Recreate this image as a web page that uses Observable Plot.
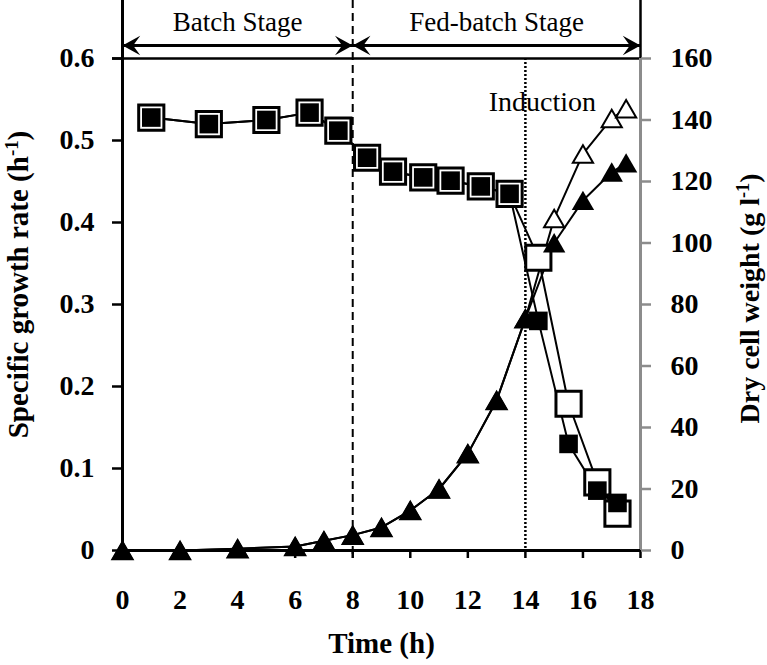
<!DOCTYPE html>
<html><head><meta charset="utf-8">
<script src="https://cdn.jsdelivr.net/npm/d3@7"></script>
<script src="https://cdn.jsdelivr.net/npm/@observablehq/plot@0.6"></script>
<style>body{margin:0;background:#fff;} svg{display:block}</style>
</head><body><div id="chart"></div>
<script>
// Specific growth rate (h^-1) — left axis
const timeMu   = [1, 3, 5, 6.5, 7.5, 8.5, 9.4, 10.45, 11.4, 12.45, 13.45, 14.45, 15.5, 16.5, 17.2];
const muFilled = [0.528, 0.520, 0.525, 0.534, 0.512, 0.479, 0.462, 0.455, 0.451, 0.444, 0.435, 0.280, 0.130, 0.073, 0.058];
const muOpen   = [0.528, 0.520, 0.525, 0.534, 0.512, 0.479, 0.462, 0.455, 0.451, 0.444, 0.435, 0.357, 0.179, 0.083, 0.045];
// Dry cell weight (g l^-1) — right axis
const timeDcw   = [0, 2, 4, 6, 7, 8, 9, 10, 11, 12, 13, 14, 15, 16, 17, 17.5];
const dcwFilled = [0, 0, 0.6, 1.3, 3.2, 5, 7.5, 13, 20, 31.5, 48.8, 75.4, 100, 113.8, 123, 126];
const dcwOpen   = [0, 0, 0.6, 1.3, 3.2, 5, 7.5, 13, 20, 31.5, 48.8, 75.4, 108, 129, 140.5, 143.7];
// ticks
const xTicks = [0, 2, 4, 6, 8, 10, 12, 14, 16, 18];
const muTicks = [0, 0.1, 0.2, 0.3, 0.4, 0.5, 0.6];
const dcwTicks = [0, 20, 40, 60, 80, 100, 120, 140, 160];
// stages
const stageLabels = ["Batch Stage", "Fed-batch Stage"];
const stageStart = [0, 8];
const stageEnd = [8, 18];
const inductionTime = 14;
const inductionLabel = "Induction";

const FONT = "'Liberation Serif', 'Times New Roman', serif";
const grey = "#8c8c8c";
const yTop = d3.max(muTicks);
const dcwMax = d3.max(dcwTicks);
const dcwToMu = v => v * yTop / dcwMax;

const muRows = timeMu.map((t, i) => ({t, filled: muFilled[i], open: muOpen[i]}));
const dcwRows = timeDcw.map((t, i) => ({t, filled: dcwToMu(dcwFilled[i]), open: dcwToMu(dcwOpen[i])}));
const stages = stageLabels.map((label, i) => ({label, x1: stageStart[i], x2: stageEnd[i], mid: (stageStart[i] + stageEnd[i]) / 2}));

const arrowHead = {
  draw(ctx, size) {
    const s = Math.sqrt(size);
    const L = s, H = 1.1 * s;
    ctx.moveTo(0, 0);
    ctx.lineTo(-L, -H / 2);
    ctx.lineTo(-0.6 * L, 0);
    ctx.lineTo(-L, H / 2);
    ctx.closePath();
  }
};

const tickFont = {fontSize: 28, fontWeight: "bold", fontFamily: FONT};
const centered = {textAnchor: "middle", lineAnchor: "middle"};

const chart = Plot.plot({
  width: 767, height: 665,
  marginLeft: 122, marginRight: 127, marginTop: 58, marginBottom: 115,
  style: {fontFamily: FONT, background: "white", overflow: "visible"},
  x: {domain: [0, 18]},
  y: {domain: [0, yTop]},
  marks: [
    // frame
    Plot.ruleY([yTop], {stroke: "black", strokeWidth: 2.5, insetLeft: -10}),
    Plot.ruleX([18], {stroke: grey, strokeWidth: 3}),
    Plot.ruleX([18], {y1: () => yTop, y2: () => yTop, insetTop: -58, stroke: "black", strokeWidth: 2.5}),
    Plot.ruleX([8], {strokeDasharray: "8,5", strokeWidth: 2, insetTop: -58, insetBottom: -8}),
    Plot.ruleX([inductionTime], {strokeDasharray: "2,2", strokeWidth: 2.5}),
    // axes
    Plot.axisX(xTicks, {tickSize: 8, tickPadding: 31, strokeWidth: 2.5, label: null, ...tickFont}),
    Plot.axisY(muTicks, {anchor: "left", tickSize: 10, tickPadding: 18, strokeWidth: 2.5, label: null,
      tickFormat: d => d === 0 ? "0" : d.toFixed(1), ...tickFont}),
    Plot.axisY(dcwTicks.map(dcwToMu), {anchor: "right", tickSize: 10, tickPadding: 20, strokeWidth: 2.5,
      stroke: grey, fill: "black", label: null,
      tickFormat: d => String(Math.round(d / yTop * dcwMax)), ...tickFont}),
    Plot.ruleY([0], {strokeWidth: 3}),
    Plot.ruleX([0], {strokeWidth: 3, insetTop: -58}),
    // stage arrows
    Plot.ruleY(stages, {y: () => yTop, x1: "x1", x2: "x2", dy: -13, strokeWidth: 3}),
    Plot.dot(stages, {x: "x2", frameAnchor: "top", dy: -13, symbol: arrowHead, r: 10, fill: "black", stroke: null}),
    Plot.dot(stages, {x: "x1", frameAnchor: "top", dy: -13, symbol: arrowHead, r: 10, rotate: 180, fill: "black", stroke: null}),
    Plot.text(stages, {x: "mid", frameAnchor: "top", dy: -36, text: "label", fontSize: 27, fontFamily: FONT, ...centered}),
    Plot.text([inductionLabel], {x: () => inductionTime, frameAnchor: "top", dx: 17, dy: 44, text: d => d, fontSize: 28, fontFamily: FONT, ...centered}),
    // lines
    Plot.line(muRows, {x: "t", y: "open", stroke: "black", strokeWidth: 2}),
    Plot.line(muRows, {x: "t", y: "filled", stroke: "black", strokeWidth: 2}),
    Plot.line(dcwRows, {x: "t", y: "open", stroke: "black", strokeWidth: 2}),
    Plot.line(dcwRows, {x: "t", y: "filled", stroke: "black", strokeWidth: 2}),
    // markers
    Plot.dot(muRows, {x: "t", y: "open", symbol: "square", r: 14.2, fill: "white", stroke: "black", strokeWidth: 3}),
    Plot.dot(dcwRows, {x: "t", y: "open", symbol: "triangle", r: 7.5, fill: "white", stroke: "black", strokeWidth: 2, dy: 3}),
    Plot.dot(muRows, {x: "t", y: "filled", symbol: "square", r: 10.5, fill: "black", stroke: null}),
    Plot.dot(dcwRows, {x: "t", y: "filled", symbol: "triangle", r: 8.3, fill: "black", stroke: null, dy: 3}),
    // axis titles
    Plot.text(["Specific growth rate (h^{-1})"], {frameAnchor: "left", dx: -104, dy: -20, rotate: -90, text: d => d, fontSize: 29, fontWeight: "bold", fontFamily: FONT, ...centered}),
    Plot.text(["Dry cell weight (g l^{-1})"], {frameAnchor: "right", dx: 110, dy: -6, rotate: -90, text: d => d, fontSize: 28, fontWeight: "bold", fontFamily: FONT, ...centered}),
    Plot.text(["Time (h)"], {frameAnchor: "bottom", dy: 93, text: d => d, fontSize: 29, fontWeight: "bold", fontFamily: FONT, ...centered})
  ]
});

// superscripts
chart.querySelectorAll("text").forEach(t => {
  const s = t.textContent;
  const m = s.match(/^(.*)\^\{(.*?)\}(.*)$/);
  if (!m) return;
  while (t.firstChild) t.removeChild(t.firstChild);
  const ns = "http://www.w3.org/2000/svg";
  t.appendChild(document.createTextNode(m[1]));
  const sup = document.createElementNS(ns, "tspan");
  sup.setAttribute("baseline-shift", "super");
  sup.setAttribute("font-size", "0.65em");
  sup.textContent = m[2];
  t.appendChild(sup);
  const rest = document.createElementNS(ns, "tspan");
  rest.textContent = m[3];
  t.appendChild(rest);
});

document.getElementById("chart").appendChild(chart);
</script>
</body></html>
